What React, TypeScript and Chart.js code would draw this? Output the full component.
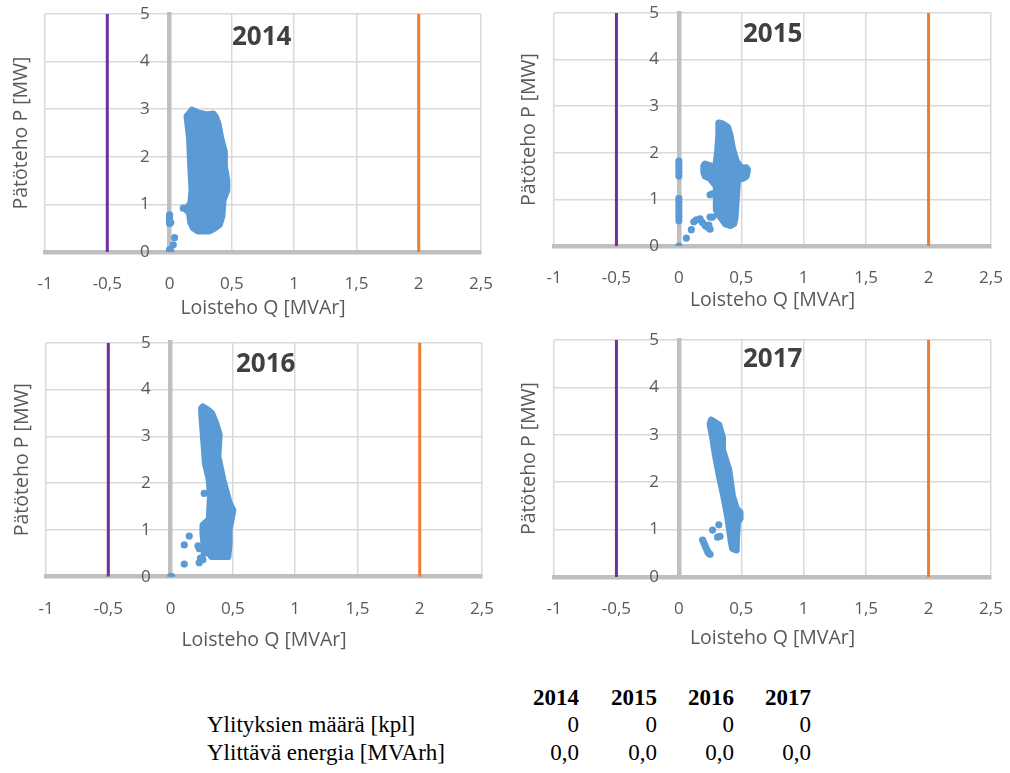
import React, { useEffect, useRef } from "react";
import { Chart, registerables } from "chart.js";

Chart.register(...registerables);

// ---------- data ----------
const years = ["2014", "2015", "2016", "2017"];
const xTickLabels = ["-1", "-0,5", "0", "0,5", "1", "1,5", "2", "2,5"];
const yTickLabels = ["0", "1", "2", "3", "4", "5"];
const xAxisTitle = "Loisteho Q [MVAr]";
const yAxisTitle = "Pätöteho P [MW]";

// reactive power limits [MVAr]
const lowerLimitQ = -0.5;
const upperLimitQ = 2;
const limitSpanP = [0, 5];

// outline of the dense measurement cloud, [Q, P] pairs
const cloud2014: [number, number][] = [
  [0.15, 2.88], [0.18, 2.98], [0.22, 2.93], [0.30, 2.88], [0.35, 2.9], [0.37, 2.83],
  [0.39, 2.68], [0.41, 2.4], [0.44, 2.1], [0.44, 1.8], [0.46, 1.5], [0.46, 1.3],
  [0.43, 1.1], [0.42, 0.75], [0.4, 0.58], [0.36, 0.5], [0.32, 0.44], [0.23, 0.44],
  [0.19, 0.51], [0.17, 0.62], [0.16, 0.82], [0.13, 0.9], [0.17, 1.02], [0.18, 1.3],
  [0.17, 1.8], [0.16, 2.4], [0.14, 2.85],
];
const cloud2015: [number, number][] = [
  [0.32, 2.64], [0.35, 2.62], [0.39, 2.55], [0.41, 2.38], [0.43, 2.08], [0.46, 1.82],
  [0.5, 1.67], [0.54, 1.68], [0.55, 1.63], [0.54, 1.5], [0.52, 1.46], [0.47, 1.42],
  [0.46, 1.0], [0.45, 0.6], [0.44, 0.48], [0.41, 0.44], [0.37, 0.48], [0.34, 0.6],
  [0.32, 0.66], [0.3, 0.78], [0.3, 1.0], [0.3, 1.28], [0.25, 1.45], [0.21, 1.5],
  [0.2, 1.58], [0.2, 1.72], [0.21, 1.76], [0.25, 1.72], [0.29, 1.62], [0.31, 2.0],
  [0.32, 2.4],
];
const cloud2016: [number, number][] = [
  [0.25, 3.6], [0.26, 3.63], [0.3, 3.56], [0.33, 3.49], [0.36, 3.3], [0.39, 3.04],
  [0.38, 2.57], [0.42, 2.07], [0.47, 1.58], [0.5, 1.42], [0.47, 1.0], [0.47, 0.72],
  [0.46, 0.43], [0.33, 0.43], [0.27, 0.64], [0.26, 0.92], [0.26, 1.1], [0.31, 1.22],
  [0.32, 1.71], [0.31, 2.07], [0.28, 2.42], [0.26, 3.13], [0.25, 3.5],
];
const cloud2017: [number, number][] = [
  [0.26, 3.31], [0.32, 3.21], [0.35, 2.94], [0.35, 2.68], [0.4, 2.26], [0.43, 1.7],
  [0.46, 1.45], [0.49, 1.36], [0.49, 1.24], [0.47, 1.14], [0.46, 0.72], [0.46, 0.57],
  [0.43, 0.6], [0.42, 0.74], [0.39, 1.28], [0.36, 1.7], [0.32, 2.19], [0.29, 2.61],
  [0.27, 2.96], [0.25, 3.22],
];

// individual scattered measurements, [Q, P] pairs
const points2014: [number, number][] = [
  [0.0, 0.78], [0.0, 0.72], [0.0, 0.66], [0.0, 0.6], [0.01, 0.62], [0.04, 0.3],
  [0.03, 0.15], [0.0, 0.05], [0.0, 0.0], [0.01, 0.02], [0.11, 0.92],
];
const points2015: [number, number][] = [
  [0.0, 1.82], [0.0, 1.74], [0.0, 1.66], [0.0, 1.58], [0.0, 1.5], [0.0, 1.02],
  [0.0, 0.94], [0.0, 0.86], [0.0, 0.78], [0.0, 0.7], [0.0, 0.62], [0.0, 0.54],
  [0.0, 0.0], [0.06, 0.17], [0.1, 0.35], [0.12, 0.52], [0.14, 0.56], [0.17, 0.58],
  [0.19, 0.5], [0.21, 0.44], [0.23, 0.4], [0.25, 0.36], [0.24, 0.45], [0.25, 0.62],
  [0.27, 0.62], [0.25, 1.1], [0.27, 1.12],
];
const points2016: [number, number][] = [
  [0.0, 0.0], [0.01, 0.0], [0.27, 1.78], [0.15, 0.87], [0.11, 0.68], [0.11, 0.27],
  [0.22, 0.66], [0.23, 0.6], [0.24, 0.4], [0.23, 0.3], [0.26, 0.36], [0.27, 0.5],
];
const points2017: [number, number][] = [
  [0.19, 0.78], [0.2, 0.72], [0.21, 0.66], [0.22, 0.6], [0.23, 0.54], [0.24, 0.5],
  [0.25, 0.48], [0.27, 0.99], [0.32, 1.1], [0.31, 0.84], [0.33, 0.86],
];

// summary table
const tableRowLabels = ["Ylityksien määrä [kpl]", "Ylittävä energia [MVArh]"];
const exceedCounts = ["0", "0", "0", "0"];
const exceedEnergy = ["0,0", "0,0", "0,0", "0,0"];

// ---------- styling ----------
const FONT = "'Open Sans', 'Noto Sans', sans-serif";
const TEXT = "#595959";
const GRID = "#d9d9d9";
const AXIS = "#bfbfbf";
const BLUE = "#5b9bd5";
const PURPLE = "#7030a0";
const ORANGE = "#ed7d31";
const Y_LABEL_GAP = "\u2002\u2002\u2009";
const X_TICK_PAD = 22;

type PanelSpec = {
  year: string;
  cloud: [number, number][];
  points: [number, number][];
  box: { left: number; top: number; w: number; h: number };
  pad: { left: number; top: number; right: number };
  yTitlePad: number;
  xTitlePad: number;
  yearPos: { left: number; top: number };
};

const panels: PanelSpec[] = [
  { year: years[0], cloud: cloud2014, points: points2014, box: { left: 0, top: 0, w: 500, h: 320 }, pad: { left: 10, top: 14, right: 19 }, yTitlePad: 11.6, xTitlePad: -19.8, yearPos: { left: 232, top: 22 } },
  { year: years[1], cloud: cloud2015, points: points2015, box: { left: 500, top: 0, w: 510, h: 312 }, pad: { left: 17.3, top: 13, right: 19 }, yTitlePad: 13.3, xTitlePad: -21.8, yearPos: { left: 743, top: 19 } },
  { year: years[2], cloud: cloud2016, points: points2016, box: { left: 0, top: 330, w: 500, h: 322 }, pad: { left: 11, top: 12.7, right: 18 }, yTitlePad: 11.6, xTitlePad: -12.5, yearPos: { left: 236, top: 349 } },
  { year: years[3], cloud: cloud2017, points: points2017, box: { left: 500, top: 330, w: 510, h: 320 }, pad: { left: 17.3, top: 10, right: 19 }, yTitlePad: 13.3, xTitlePad: -14.8, yearPos: { left: 743, top: 344 } },
];

const toXY = (arr: [number, number][]) => arr.map(([x, y]) => ({ x, y }));

function Panel({ spec }: { spec: PanelSpec }) {
  const ref = useRef<HTMLCanvasElement | null>(null);
  useEffect(() => {
    if (!ref.current) return;
    const cloudXY = toXY(spec.cloud);
    cloudXY.push({ ...cloudXY[0] });
    const chart = new Chart(ref.current, {
      type: "scatter",
      data: {
        datasets: [
          {
            type: "scatter",
            data: toXY(spec.points),
            backgroundColor: BLUE,
            borderWidth: 0,
            pointRadius: 3.6,
            xAxisID: "x",
            yAxisID: "y",
          } as any,
          {
            type: "line",
            data: cloudXY,
            borderColor: BLUE,
            backgroundColor: BLUE,
            borderWidth: 7,
            borderJoinStyle: "round",
            borderCapStyle: "round",
            pointRadius: 0,
            tension: 0,
            fill: "shape",
            xAxisID: "x",
            yAxisID: "y",
          } as any,
          {
            type: "line",
            data: limitSpanP.map((p) => ({ x: lowerLimitQ, y: p })),
            borderColor: PURPLE,
            borderWidth: 3,
            pointRadius: 0,
            fill: false,
            xAxisID: "x",
            yAxisID: "y",
          } as any,
          {
            type: "line",
            data: limitSpanP.map((p) => ({ x: upperLimitQ, y: p })),
            borderColor: ORANGE,
            borderWidth: 3,
            pointRadius: 0,
            fill: false,
            xAxisID: "x",
            yAxisID: "y",
          } as any,
        ],
      },
      options: {
        animation: false,
        responsive: false,
        events: [],
        layout: { padding: { left: spec.pad.left, top: spec.pad.top, right: spec.pad.right, bottom: 0 } },
        plugins: { legend: { display: false }, tooltip: { enabled: false } },
        scales: {
          x: {
            type: "linear",
            position: "bottom",
            min: -1,
            max: 2.5,
            afterFit: (s: any) => {
              s.paddingLeft = 0;
              s.paddingRight = 0;
            },
            ticks: {
              stepSize: 0.5,
              autoSkip: false,
              maxRotation: 0,
              callback: (_v: any, i: number) => xTickLabels[i],
              font: { family: FONT, size: 17 },
              color: TEXT,
              padding: X_TICK_PAD,
            },
            grid: {
              color: (ctx: any) => (ctx.tick && ctx.tick.value === 0 ? "rgba(0,0,0,0)" : GRID),
              lineWidth: 1.5,
              drawTicks: false,
            },
            border: { color: AXIS, width: 4.5 },
            title: {
              display: true,
              text: xAxisTitle,
              font: { family: FONT, size: 19.5 },
              color: TEXT,
              padding: { top: spec.xTitlePad, bottom: 0 },
            },
          },
          y: {
            type: "linear",
            position: { x: 0 },
            min: 0,
            max: 5,
            afterFit: (s: any) => {
              s.width = 0;
              s.paddingTop = 0;
              s.paddingBottom = 0;
            },
            ticks: {
              stepSize: 1,
              autoSkip: false,
              callback: (_v: any, i: number) => yTickLabels[i] + Y_LABEL_GAP,
              font: { family: FONT, size: 17 },
              color: TEXT,
              padding: 0,
            },
            grid: {
              color: (ctx: any) => (ctx.tick && ctx.tick.value === 0 ? "rgba(0,0,0,0)" : GRID),
              lineWidth: 1.5,
              drawTicks: false,
            },
            border: { color: AXIS, width: 4.5 },
          },
          yT: {
            type: "linear",
            position: "left",
            min: 0,
            max: 5,
            afterFit: (s: any) => {
              s.paddingTop = 0;
              s.paddingBottom = 0;
            },
            ticks: { display: false, padding: 0 },
            grid: { display: false, drawTicks: false },
            border: { display: false },
            title: {
              display: true,
              text: yAxisTitle,
              font: { family: FONT, size: 19.5 },
              color: TEXT,
              padding: { top: 0, bottom: spec.yTitlePad },
            },
          },
        },
      } as any,
    });
    return () => chart.destroy();
  }, [spec]);

  return (
    <>
      <canvas
        ref={ref}
        width={spec.box.w}
        height={spec.box.h}
        style={{ position: "absolute", left: spec.box.left, top: spec.box.top, width: spec.box.w, height: spec.box.h }}
      />
      <div
        style={{
          position: "absolute",
          left: spec.yearPos.left,
          top: spec.yearPos.top,
          font: `bold 26px ${FONT}`,
          lineHeight: "26px",
          color: "#404040",
          whiteSpace: "nowrap",
        }}
      >
        {spec.year}
      </div>
    </>
  );
}

const colRight = [579, 657, 734, 811];
const rowTops = [683.5, 711, 738.5];

function SummaryTable() {
  const cellBase: React.CSSProperties = {
    position: "absolute",
    fontFamily: "'Liberation Serif', 'Times New Roman', serif",
    fontSize: 23,
    lineHeight: "27.5px",
    color: "#000",
    whiteSpace: "nowrap",
  };
  const rows = [exceedCounts, exceedEnergy];
  return (
    <>
      {years.map((y, i) => (
        <div key={"h" + y} style={{ ...cellBase, fontWeight: "bold", top: rowTops[0], right: 1010 - colRight[i], textAlign: "right" }}>
          {y}
        </div>
      ))}
      {rows.map((vals, r) => (
        <React.Fragment key={"r" + r}>
          <div style={{ ...cellBase, top: rowTops[r + 1], left: 207 }}>{tableRowLabels[r]}</div>
          {vals.map((v, i) => (
            <div key={i} style={{ ...cellBase, top: rowTops[r + 1], right: 1010 - colRight[i], textAlign: "right" }}>
              {v}
            </div>
          ))}
        </React.Fragment>
      ))}
    </>
  );
}

export default function App() {
  return (
    <div style={{ position: "absolute", left: 0, top: 0, width: 1010, height: 773, background: "#fff", overflow: "hidden" }}>
      {panels.map((p) => (
        <Panel key={p.year} spec={p} />
      ))}
      <SummaryTable />
    </div>
  );
}
